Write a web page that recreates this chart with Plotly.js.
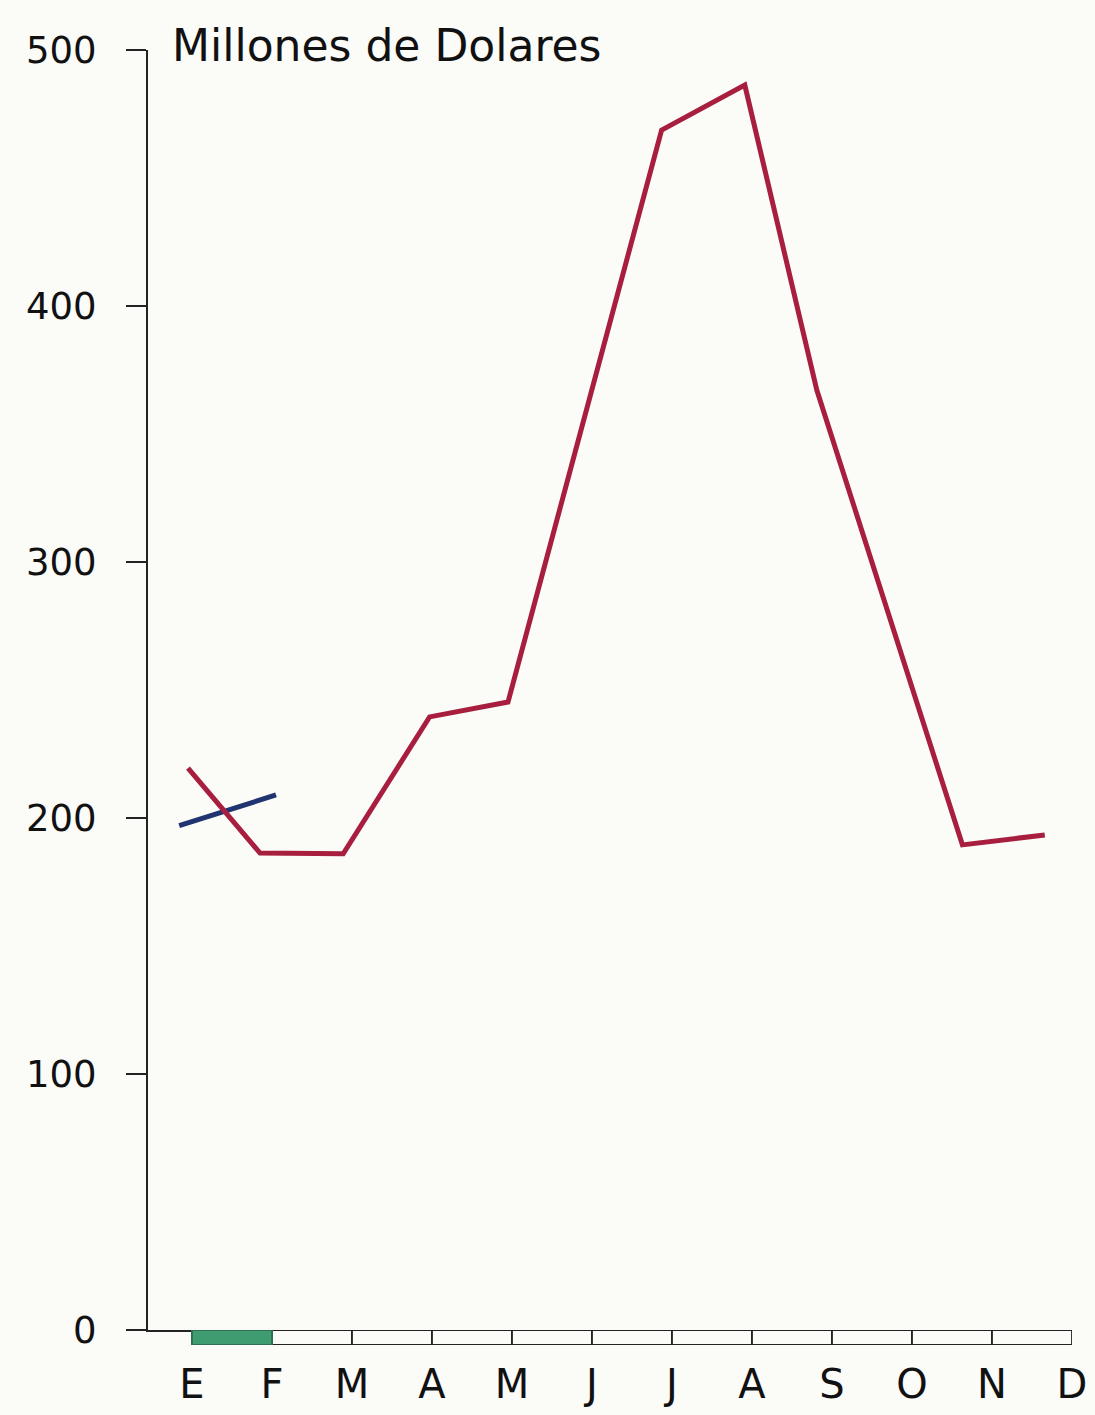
<!DOCTYPE html>
<html>
<head>
<meta charset="utf-8">
<script src="https://cdn.plot.ly/plotly-3.0.1.min.js"></script>
<style>
  html, body { margin: 0; padding: 0; background: #fbfbf8; }
  #chart { width: 1095px; height: 1415px; }
</style>
</head>
<body>
<div id="chart"></div>
<script>
// ---- data ----
const meses = ['E', 'F', 'M', 'A', 'M', 'J', 'J', 'A', 'S', 'O', 'N', 'D'];
const mesPos = [0, 1, 2, 3, 4, 5, 6, 7, 8, 9, 10, 11];

// red series: hand-drawn vertices (month position, millions of dollars)
const rojoX = [-0.05, 0.85, 1.89, 2.97, 3.95, 5.87, 6.91, 7.81, 9.63, 10.66];
const rojoY = [219.5, 186.3, 186.0, 239.5, 245.3, 468.7, 486.3, 367.2, 189.5, 193.4];

// blue series: short segment near E-F
const azulX = [-0.16, 1.05];
const azulY = [197, 209];

// strip under the x axis: one cell per month interval
const franjaX = [0.5, 1.5, 2.5, 3.5, 4.5, 5.5, 6.5, 7.5, 8.5, 9.5, 10.5];
const franjaY = [-6, -6, -6, -6, -6, -6, -6, -6, -6, -6, -6];

// green series: filled cell E-F
const verdeX = [0.5];
const verdeY = [-6];

const yTicks = [0, 100, 200, 300, 400, 500];
const yTickText = ['0', '100', '200', '300', '400', '500'];

const titulo = 'Millones de Dolares';

// ---- chart ----
const ink = '#232323';
const fontFam = 'DejaVu Sans, sans-serif';

const traces = [
  {
    type: 'bar', x: franjaX, y: franjaY, width: 1,
    xaxis: 'x', yaxis: 'y2',
    marker: { color: '#fbfbf8', line: { color: ink, width: 1.8 } },
    hoverinfo: 'skip', showlegend: false
  },
  {
    type: 'bar', x: verdeX, y: verdeY, width: 1,
    xaxis: 'x', yaxis: 'y2',
    marker: { color: '#3f9c70', line: { color: '#2f6f52', width: 1.8 } },
    hoverinfo: 'skip', showlegend: false
  },
  {
    type: 'scatter', mode: 'lines', x: azulX, y: azulY,
    line: { color: '#1f3470', width: 5 },
    showlegend: false
  },
  {
    type: 'scatter', mode: 'lines', x: rojoX, y: rojoY,
    line: { color: '#a81e3e', width: 5 },
    showlegend: false
  }
];

const bandFrac = 15 / 1295;

const layout = {
  width: 1095, height: 1415,
  margin: { l: 148, r: 23, t: 50, b: 70 },
  paper_bgcolor: '#fbfbf8',
  plot_bgcolor: '#fbfbf8',
  barmode: 'overlay',
  showlegend: false,
  font: { family: fontFam, color: ink },
  title: {
    text: titulo,
    x: 172 / 1095, xanchor: 'left',
    y: 1 - 46 / 1415, yanchor: 'middle',
    font: { family: fontFam, size: 44, color: '#111' }
  },
  xaxis: {
    range: [-0.55, 11],
    tickmode: 'array', tickvals: mesPos, ticktext: meses,
    showline: true, linecolor: ink, linewidth: 2,
    ticks: 'outside', ticklen: 18, tickcolor: 'rgba(0,0,0,0)',
    tickfont: { family: fontFam, size: 40, color: '#111' },
    showgrid: false, zeroline: false, anchor: 'y', fixedrange: true
  },
  yaxis: {
    domain: [bandFrac, 1],
    range: [0, 500],
    tickmode: 'array', tickvals: yTicks, ticktext: yTickText,
    showline: true, linecolor: ink, linewidth: 2,
    ticks: 'outside', ticklen: 20, tickwidth: 2, tickcolor: ink,
    ticklabelstandoff: 22,
    tickfont: { family: fontFam, size: 37, color: '#111' },
    showgrid: false, zeroline: false, anchor: 'x', fixedrange: true
  },
  yaxis2: {
    domain: [0, bandFrac],
    range: [-6, 0],
    visible: false, anchor: 'x', fixedrange: true
  }
};

Plotly.newPlot('chart', traces, layout, { displayModeBar: false, staticPlot: true });
</script>
</body>
</html>
